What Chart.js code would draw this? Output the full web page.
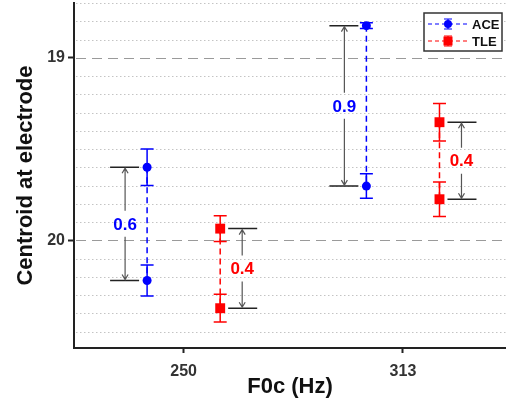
<!DOCTYPE html>
<html>
<head>
<meta charset="utf-8">
<script src="https://cdn.jsdelivr.net/npm/chart.js@4"></script>
<style>
  body { margin: 0; background: #fff; }
  #wrap { width: 506px; height: 403px; }
</style>
</head>
<body>
<div id="wrap"><canvas id="c"></canvas></div>
<script>
// F0c categories (x axis)
const categories = ['250', '313'];
const yTicks = [19, 20];

// ACE: upper and lower point per F0c, with error half-widths
const aceTop = [19.60, 18.824];
const aceBottom = [20.22, 19.703];
const aceTopErr = [0.10, 0.016];
const aceBottomErr = [0.085, 0.067];

// TLE
const tleTop = [19.936, 19.353];
const tleBottom = [20.372, 19.775];
const tleTopErr = [0.07, 0.103];
const tleBottomErr = [0.076, 0.094];

const FONT = "'Liberation Sans', Arial, sans-serif";

const groups = [
    { name: 'ACE', color: '#0000ff', style: 'circle', radius: 4.5, offset: -1 / 6, side: -1,
      top: aceTop, bottom: aceBottom, topErr: aceTopErr, bottomErr: aceBottomErr },
    { name: 'TLE', color: '#ff0000', style: 'rect', radius: 7, offset: 1 / 6, side: 1,
      top: tleTop, bottom: tleBottom, topErr: tleTopErr, bottomErr: tleBottomErr }
];

// one dataset per group and category (a pair of points joined by a dashed line)
const datasets = [];
groups.forEach(function (g) {
    categories.forEach(function (c, i) {
        const x = i + 1 + g.offset;
        datasets.push({
            label: g.name,
            data: [{ x: x, y: g.top[i] }, { x: x, y: g.bottom[i] }],
            errs: [g.topErr[i], g.bottomErr[i]],
            showLine: true,
            borderColor: g.color,
            backgroundColor: g.color,
            borderWidth: 1.5,
            borderDash: [6, 4],
            pointStyle: g.style,
            pointRadius: g.radius,
            pointHoverRadius: g.radius,
            pointBorderWidth: 0
        });
    });
});

const extras = {
    id: 'extras',
    beforeDatasetsDraw: function (chart) {
        const ctx = chart.ctx;
        const a = chart.chartArea;
        const ys = chart.scales.y;
        const xs = chart.scales.x;
        ctx.save();
        // grid lines: dashed at whole numbers, dotted every 0.1
        for (let k = 187; k <= 205; k++) {
            const v = k / 10;
            const py = Math.round(ys.getPixelForValue(v)) + 0.5;
            ctx.beginPath();
            if (k % 10 === 0) {
                ctx.strokeStyle = '#9a9a9a';
                ctx.lineWidth = 1.2;
                ctx.setLineDash([10, 6]);
            } else {
                ctx.strokeStyle = '#c4c4c4';
                ctx.lineWidth = 1;
                ctx.setLineDash([1.5, 2.5]);
            }
            ctx.moveTo(a.left + 2, py);
            ctx.lineTo(a.right, py);
            ctx.stroke();
        }
        ctx.setLineDash([]);
        // error bars
        chart.data.datasets.forEach(function (ds) {
            ds.data.forEach(function (p, j) {
                const px = xs.getPixelForValue(p.x);
                const y1 = ys.getPixelForValue(p.y - ds.errs[j]);
                const y2 = ys.getPixelForValue(p.y + ds.errs[j]);
                ctx.strokeStyle = ds.borderColor;
                ctx.lineWidth = 1.5;
                ctx.beginPath();
                ctx.moveTo(px, y1); ctx.lineTo(px, y2);
                ctx.moveTo(px - 6.5, y1); ctx.lineTo(px + 6.5, y1);
                ctx.moveTo(px - 6.5, y2); ctx.lineTo(px + 6.5, y2);
                ctx.stroke();
            });
        });
        ctx.restore();
    },
    afterDatasetsDraw: function (chart) {
        const ctx = chart.ctx;
        const ys = chart.scales.y;
        const xs = chart.scales.x;
        ctx.save();
        groups.forEach(function (g) {
            categories.forEach(function (c, i) {
                const px = xs.getPixelForValue(i + 1 + g.offset);
                const yA = ys.getPixelForValue(g.top[i]);
                const yB = ys.getPixelForValue(g.bottom[i]);
                const s = g.side;
                const near = px + s * 8, far = px + s * 37;
                const ax = px + s * 22;
                // bracket lines
                ctx.strokeStyle = '#222';
                ctx.lineWidth = 1.5;
                ctx.beginPath();
                ctx.moveTo(near, yA); ctx.lineTo(far, yA);
                ctx.moveTo(near, yB); ctx.lineTo(far, yB);
                ctx.stroke();
                // double arrow split around the label
                const mid = (yA + yB) / 2 + 1;
                ctx.strokeStyle = '#555';
                ctx.lineWidth = 1.2;
                ctx.beginPath();
                ctx.moveTo(ax, yA + 1); ctx.lineTo(ax, mid - 14);
                ctx.moveTo(ax, mid + 12); ctx.lineTo(ax, yB - 1);
                ctx.moveTo(ax - 3, yA + 6); ctx.lineTo(ax, yA + 1); ctx.lineTo(ax + 3, yA + 6);
                ctx.moveTo(ax - 3, yB - 6); ctx.lineTo(ax, yB - 1); ctx.lineTo(ax + 3, yB - 6);
                ctx.stroke();
                // difference label
                ctx.fillStyle = g.color;
                ctx.font = 'bold 17px ' + FONT;
                ctx.textAlign = 'center';
                ctx.textBaseline = 'middle';
                ctx.fillText((g.bottom[i] - g.top[i]).toFixed(1), ax, mid);
            });
        });
        ctx.restore();
    },
    afterDraw: function (chart) {
        const ctx = chart.ctx;
        ctx.save();
        // legend box
        const bx = 424, by = 13, bw = 78, bh = 38;
        ctx.fillStyle = '#fff';
        ctx.fillRect(bx, by, bw, bh);
        ctx.strokeStyle = '#333';
        ctx.lineWidth = 1.5;
        ctx.strokeRect(bx, by, bw, bh);
        groups.forEach(function (g, i) {
            const ly = by + 11 + i * 17;
            ctx.strokeStyle = g.color;
            ctx.lineWidth = 1.2;
            ctx.setLineDash([4, 3]);
            ctx.beginPath();
            ctx.moveTo(bx + 4, ly); ctx.lineTo(bx + 45, ly);
            ctx.stroke();
            ctx.setLineDash([]);
            const mx = bx + 24;
            ctx.beginPath();
            ctx.moveTo(mx, ly - 5); ctx.lineTo(mx, ly + 5);
            ctx.moveTo(mx - 4, ly - 5); ctx.lineTo(mx + 4, ly - 5);
            ctx.moveTo(mx - 4, ly + 5); ctx.lineTo(mx + 4, ly + 5);
            ctx.stroke();
            ctx.fillStyle = g.color;
            if (g.style === 'circle') {
                ctx.beginPath();
                ctx.arc(mx, ly, 4, 0, Math.PI * 2);
                ctx.fill();
            } else {
                ctx.fillRect(mx - 4.5, ly - 4.5, 9, 9);
            }
            ctx.fillStyle = '#111';
            ctx.font = 'bold 13px ' + FONT;
            ctx.textAlign = 'left';
            ctx.textBaseline = 'middle';
            ctx.fillText(g.name, bx + 48, ly + 1);
        });
        ctx.restore();
    }
};

new Chart(document.getElementById('c'), {
    type: 'scatter',
    data: { datasets: datasets },
    options: {
        responsive: true,
        maintainAspectRatio: false,
        animation: false,
        layout: { autoPadding: false, padding: { top: 3, right: 0, bottom: 0, left: 0 } },
        plugins: { legend: { display: false }, tooltip: { enabled: false } },
        scales: {
            x: {
                type: 'linear',
                min: 0.5,
                max: 2.47,
                afterBuildTicks: function (scale) {
                    scale.ticks = categories.map(function (c, i) { return { value: i + 1 }; });
                },
                afterFit: function (scale) {
                    scale.height = 55;
                    scale.paddingLeft = 0; scale.paddingRight = 0;
                },
                ticks: {
                    callback: function (v) { return categories[v - 1]; },
                    font: { family: FONT, size: 16, weight: 'bold' },
                    color: '#333',
                    padding: 9,
                    maxRotation: 0
                },
                grid: { drawOnChartArea: false, tickLength: 5, tickColor: '#222', tickWidth: 2 },
                border: { color: '#222', width: 2 },
                title: {
                    display: true,
                    text: 'F0c (Hz)',
                    font: { family: FONT, size: 22, weight: 'bold' },
                    color: '#111',
                    padding: { top: 0, bottom: 3 }
                }
            },
            y: {
                type: 'linear',
                reverse: true,
                min: 18.7,
                max: 20.59,
                afterBuildTicks: function (scale) {
                    scale.ticks = yTicks.map(function (v) { return { value: v }; });
                },
                afterFit: function (scale) {
                    scale.width = 74;
                    scale.paddingTop = 0; scale.paddingBottom = 0;
                },
                ticks: {
                    font: { family: FONT, size: 16, weight: 'bold' },
                    color: '#333',
                    padding: 3
                },
                grid: { drawOnChartArea: false, tickLength: 6, tickColor: '#222', tickWidth: 2 },
                border: { color: '#222', width: 2 },
                title: {
                    display: true,
                    text: 'Centroid at electrode',
                    font: { family: FONT, size: 22, weight: 'bold' },
                    color: '#111',
                    padding: { top: 13, bottom: 0 }
                }
            }
        }
    },
    plugins: [extras]
});
</script>
</body>
</html>
